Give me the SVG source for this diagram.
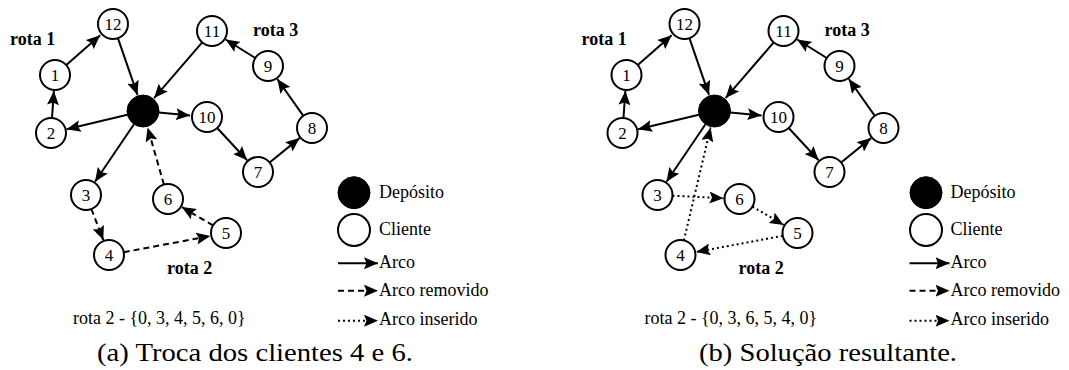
<svg xmlns="http://www.w3.org/2000/svg" width="1069" height="370" viewBox="0 0 1069 370">
<style>
.nd{fill:#fff;stroke:#000;stroke-width:2}
.dp{fill:#000;stroke:#000;stroke-width:1}
text{font-family:'Liberation Serif','Times New Roman',Times,'DejaVu Serif',serif;fill:#000}
.lb{font-size:17px;text-anchor:middle}
.tx{font-size:18px}
.rt{font-size:18px;font-weight:bold}
.cap{font-size:25px}
.e{fill:none;stroke:#000;stroke-width:2;marker-end:url(#ah)}
.ds{stroke-dasharray:6 4}
.dt{stroke-dasharray:2 3}
</style>
<defs>
<marker id="ah" markerUnits="userSpaceOnUse" markerWidth="15" markerHeight="12" refX="14" refY="6" orient="auto" viewBox="0 0 15 12">
<path d="M0,0 L14,6 L0,12 L2.5,6 z" fill="#000"/>
</marker>
</defs>

<rect width="1069" height="370" fill="#fff"/>

<!-- Panel A -->
<g id="panelA">
<g id="connA">
<line class="e" x1="127.4" y1="114.7" x2="66.6" y2="129.3"/>
<line class="e" x1="52" y1="118" x2="53.9" y2="91"/>
<line class="e" x1="66.3" y1="65.1" x2="100.2" y2="35.3"/>
<line class="e" x1="117.9" y1="38.2" x2="137.5" y2="94.9"/>
<line class="e" x1="202.2" y1="42.4" x2="154.1" y2="98.1"/>
<line class="e" x1="158.9" y1="112.5" x2="190.1" y2="115.4"/>
<line class="e" x1="217.2" y1="128" x2="247.1" y2="160.3"/>
<line class="e" x1="269.6" y1="162.5" x2="299.6" y2="138.1"/>
<line class="e" x1="303.3" y1="115.8" x2="277.3" y2="79"/>
<line class="e" x1="255.3" y1="58" x2="225.6" y2="39.5"/>
<line class="e" x1="134" y1="124.2" x2="95" y2="181.8"/>
<line class="e ds" x1="91.4" y1="209" x2="103.3" y2="240.1"/>
<line class="e ds" x1="123.7" y1="252.2" x2="210.3" y2="236"/>
<line class="e ds" x1="213.1" y1="225.4" x2="181.8" y2="207.1"/>
<line class="e ds" x1="163.9" y1="184.6" x2="147.6" y2="127.4"/>
</g>
<g id="a_n0"><circle class="dp" cx="143" cy="111" r="16"/></g>
<g id="a_n1"><circle class="nd" cx="55" cy="75" r="15"/><text class="lb" x="55" y="81">1</text></g>
<g id="a_n2"><circle class="nd" cx="51" cy="133" r="15"/><text class="lb" x="51" y="139">2</text></g>
<g id="a_n3"><circle class="nd" cx="86" cy="195" r="15"/><text class="lb" x="86" y="201">3</text></g>
<g id="a_n4"><circle class="nd" cx="109" cy="255" r="15"/><text class="lb" x="109" y="261">4</text></g>
<g id="a_n5"><circle class="nd" cx="226" cy="233" r="15"/><text class="lb" x="226" y="239">5</text></g>
<g id="a_n6"><circle class="nd" cx="168" cy="199" r="15"/><text class="lb" x="168" y="205">6</text></g>
<g id="a_n7"><circle class="nd" cx="258" cy="172" r="15"/><text class="lb" x="258" y="178">7</text></g>
<g id="a_n8"><circle class="nd" cx="312" cy="128" r="15"/><text class="lb" x="312" y="134">8</text></g>
<g id="a_n9"><circle class="nd" cx="268" cy="66" r="15"/><text class="lb" x="268" y="72">9</text></g>
<g id="a_n10"><circle class="nd" cx="207" cy="117" r="15"/><text class="lb" x="207" y="123">10</text></g>
<g id="a_n11"><circle class="nd" cx="212" cy="31" r="15"/><text class="lb" x="212" y="37">11</text></g>
<g id="a_n12"><circle class="nd" cx="113" cy="24" r="15"/><text class="lb" x="113" y="30">12</text></g>
<text class="rt" x="10" y="45">rota 1</text>
<text class="rt" x="253" y="36">rota 3</text>
<text class="rt" x="167" y="274">rota 2</text>
<text class="tx" x="73" y="324">rota 2 - {0, 3, 4, 5, 6, 0}</text>
<g id="a_legend">
<circle class="dp" cx="354" cy="192.7" r="16"/>
<circle class="nd" cx="354" cy="230" r="16"/>
<line class="e" x1="338" y1="263.3" x2="378" y2="263.3"/>
<line class="e ds" x1="338" y1="290.7" x2="378" y2="290.7"/>
<line class="e dt" x1="338" y1="320.7" x2="378" y2="320.7"/>
<text class="tx" x="379" y="198">Depósito</text>
<text class="tx" x="379" y="235">Cliente</text>
<text class="tx" x="379" y="267.5">Arco</text>
<text class="tx" x="379" y="296">Arco removido</text>
<text class="tx" x="379" y="325">Arco inserido</text>
</g>
<text class="cap" x="97" y="361" textLength="316" lengthAdjust="spacingAndGlyphs">(a) Troca dos clientes 4 e 6.</text>
</g>

<!-- Panel B -->
<g id="panelB" transform="translate(571.5,0)">
<g id="connB">
<line class="e" x1="127.4" y1="114.7" x2="66.6" y2="129.3"/>
<line class="e" x1="52" y1="118" x2="53.9" y2="91"/>
<line class="e" x1="66.3" y1="65.1" x2="100.2" y2="35.3"/>
<line class="e" x1="117.9" y1="38.2" x2="137.5" y2="94.9"/>
<line class="e" x1="202.2" y1="42.4" x2="154.1" y2="98.1"/>
<line class="e" x1="158.9" y1="112.5" x2="190.1" y2="115.4"/>
<line class="e" x1="217.2" y1="128" x2="247.1" y2="160.3"/>
<line class="e" x1="269.6" y1="162.5" x2="299.6" y2="138.1"/>
<line class="e" x1="303.3" y1="115.8" x2="277.3" y2="79"/>
<line class="e" x1="255.3" y1="58" x2="225.6" y2="39.5"/>
<line class="e" x1="134" y1="124.2" x2="95" y2="181.8"/>
<line class="e dt" x1="101" y1="195.7" x2="152" y2="198.2"/>
<line class="e dt" x1="180.9" y1="206.6" x2="212.2" y2="224.9"/>
<line class="e dt" x1="211.3" y1="235.8" x2="124.7" y2="252"/>
<line class="e dt" x1="112.4" y1="240.4" x2="139.1" y2="127.5"/>
</g>
<g id="b_n0"><circle class="dp" cx="143" cy="111" r="16"/></g>
<g id="b_n1"><circle class="nd" cx="55" cy="75" r="15"/><text class="lb" x="55" y="81">1</text></g>
<g id="b_n2"><circle class="nd" cx="51" cy="133" r="15"/><text class="lb" x="51" y="139">2</text></g>
<g id="b_n3"><circle class="nd" cx="86" cy="195" r="15"/><text class="lb" x="86" y="201">3</text></g>
<g id="b_n4"><circle class="nd" cx="109" cy="255" r="15"/><text class="lb" x="109" y="261">4</text></g>
<g id="b_n5"><circle class="nd" cx="226" cy="233" r="15"/><text class="lb" x="226" y="239">5</text></g>
<g id="b_n6"><circle class="nd" cx="168" cy="199" r="15"/><text class="lb" x="168" y="205">6</text></g>
<g id="b_n7"><circle class="nd" cx="258" cy="172" r="15"/><text class="lb" x="258" y="178">7</text></g>
<g id="b_n8"><circle class="nd" cx="312" cy="128" r="15"/><text class="lb" x="312" y="134">8</text></g>
<g id="b_n9"><circle class="nd" cx="268" cy="66" r="15"/><text class="lb" x="268" y="72">9</text></g>
<g id="b_n10"><circle class="nd" cx="207" cy="117" r="15"/><text class="lb" x="207" y="123">10</text></g>
<g id="b_n11"><circle class="nd" cx="212" cy="31" r="15"/><text class="lb" x="212" y="37">11</text></g>
<g id="b_n12"><circle class="nd" cx="113" cy="24" r="15"/><text class="lb" x="113" y="30">12</text></g>
<text class="rt" x="10" y="45">rota 1</text>
<text class="rt" x="253" y="36">rota 3</text>
<text class="rt" x="167" y="274">rota 2</text>
<text class="tx" x="73" y="324">rota 2 - {0, 3, 6, 5, 4, 0}</text>
<g id="b_legend">
<circle class="dp" cx="354.5" cy="192.7" r="16"/>
<circle class="nd" cx="354.5" cy="230" r="16"/>
<line class="e" x1="338" y1="263.3" x2="378" y2="263.3"/>
<line class="e ds" x1="338" y1="290.7" x2="378" y2="290.7"/>
<line class="e dt" x1="338" y1="320.7" x2="378" y2="320.7"/>
<text class="tx" x="379" y="198">Depósito</text>
<text class="tx" x="379" y="235">Cliente</text>
<text class="tx" x="379" y="267.5">Arco</text>
<text class="tx" x="379" y="296">Arco removido</text>
<text class="tx" x="379" y="325">Arco inserido</text>
</g>
<text class="cap" x="127.5" y="361" textLength="258" lengthAdjust="spacingAndGlyphs">(b) Solução resultante.</text>
</g>
</svg>
